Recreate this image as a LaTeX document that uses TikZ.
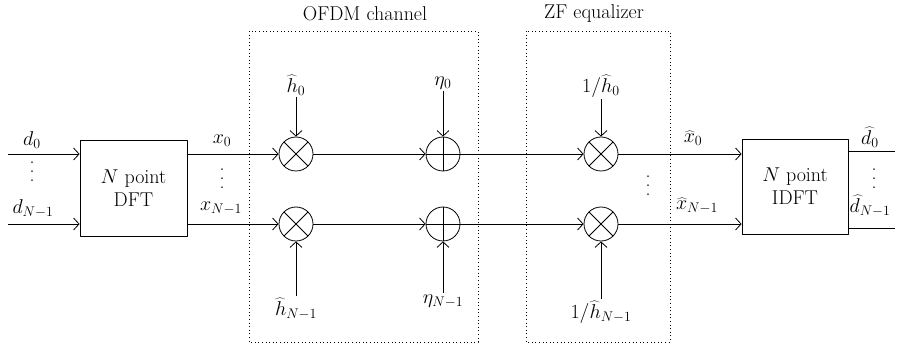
\documentclass[tikz,border=0pt]{standalone}
\usepackage{fix-cm}
\usetikzlibrary{arrows.meta}
\newcommand{\vdts}{\vbox{\baselineskip9pt\lineskiplimit0pt\hbox{.}\hbox{.}\hbox{.}}}
\begin{document}
\begin{tikzpicture}[x=1pt, y=-1pt, line join = round, >={Straight Barb[length=5.5pt,width=12pt]}, font=\fontsize{20}{23}\selectfont, line width=0.8pt]
                \tikzset{blk/.style={draw=black,rectangle,minimum width=107pt,minimum height=96pt,align=center,inner sep=0pt},
                    mul/.style={draw=black,circle,minimum size=34pt,inner sep=0pt,path picture={\draw (path picture bounding box.north west)--(path picture bounding box.south east) (path picture bounding box.north east)--(path picture bounding box.south west);}},
                    add/.style={draw=black,circle,minimum size=34pt,inner sep=0pt,path picture={\draw (path picture bounding box.north)--(path picture bounding box.south) (path picture bounding box.west)--(path picture bounding box.east);}},
                    grp/.style={draw=black,dash pattern=on 0.9pt off 2.7pt,line width=0.9pt},
                    lbl/.style={inner sep=1.5pt}}
                \useasboundingbox (0,0) rectangle (897,347);
                
                \path(133.5,188)node[blk](dft){$N$ point\\DFT} (795,186.5)node[blk,minimum width=106pt,minimum height=95pt](idft){$N$ point\\IDFT};
                \path(296,154)node[mul](m0){} (443,154)node[add](a0){} (601,154)node[mul](z0){};
                \path(296,224)node[mul](m1){} (443,224)node[add](a1){} (601,224)node[mul](z1){};
                \path(249,31)coordinate(oa)(478,342)coordinate(ob) (526,31)coordinate(za)(670,342)coordinate(zb);
                \draw[grp](oa)rectangle(ob); \draw[grp](za)rectangle(zb);
                \path(365,14)node(otitle){OFDM channel} (594,14)node(ztitle){ZF equalizer};
                
                % coefficients and noise
                \path(296,85)node[lbl](h0){$\widehat{h}_0$} (296,309)node[lbl](h1){$\widehat{h}_{N-1}$}
                (443,83)node[lbl](e0){$\eta_0$} (443,301)node[lbl](e1){$\eta_{N-1}$}
                (601,86)node[lbl](g0){$1/\widehat{h}_0$} (601,312)node[lbl](g1){$1/\widehat{h}_{N-1}$};
                \foreach \x/\y in {h0/m0,h1/m1,e0/a0,e1/a1,g0/z0,g1/z1}{
                    \draw[->] (\x)to(\y);	}
                
                % signal paths
                \path(8,154)coordinate(i0) (8,224)coordinate(i1) (895,151)coordinate(o0) (895,228)coordinate(o1);
                \foreach \x in {0,1}{
                    \draw[->] (i\x)--(i\x-|dft.west);
                    \draw[->] (dft.east|-m\x)--(m\x);
                    \draw[->] (m\x)--(a\x);
                    \draw[->] (a\x)--(z\x);
                    \draw[->] (z\x)--(z\x-|idft.west);
                    \draw (idft.east|-o\x)--(o\x);	}
                \path
                (32,140)node{$d_0$} (32,172)node{\vdts} (33,209)node{$d_{N-1}$}
                (222,141)node{$x_0$} (222,179)node{\vdts} (221,208)node{$x_{N-1}$}
                (648,186)node{\vdts}
                (693,138)node{$\widehat{x}_0$} (697,206)node{$\widehat{x}_{N-1}$}
                (870,137)node{$\widehat{d}_0$} (874,179)node{\vdts} (870,206)node{$\widehat{d}_{N-1}$}
                ;
            \end{tikzpicture}
\end{document}
